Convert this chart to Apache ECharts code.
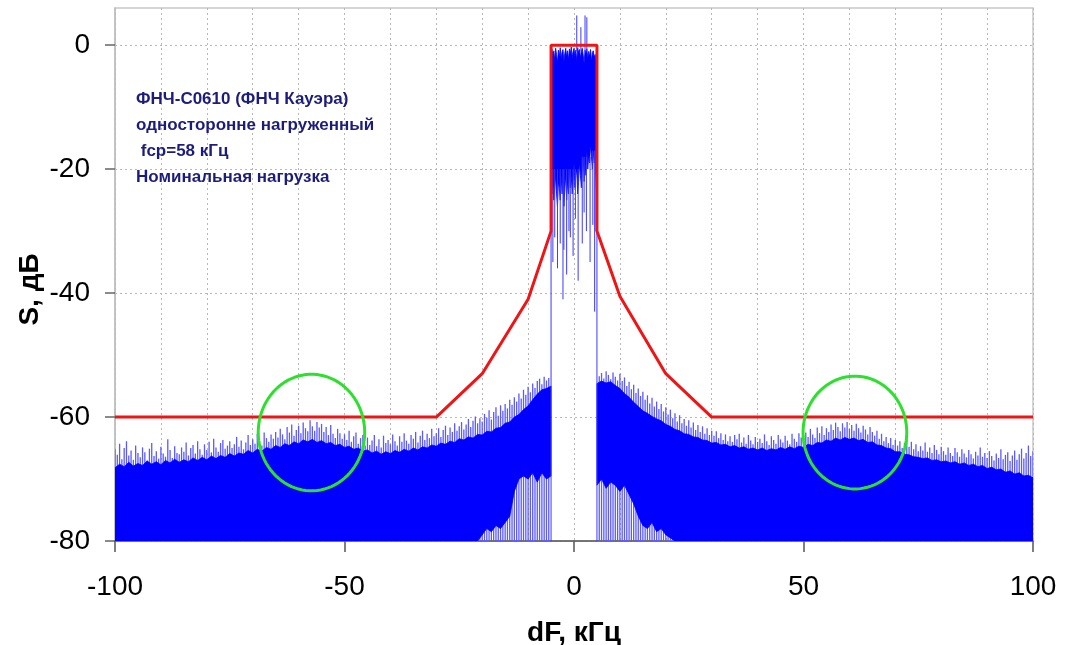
<!DOCTYPE html>
<html><head><meta charset="utf-8">
<script src="https://cdn.jsdelivr.net/npm/echarts@6/dist/echarts.min.js"></script>
<style>html,body{margin:0;padding:0;background:#fff}#c{width:1068px;height:645px}</style>
</head><body><div id="c"></div>
<script>
// ---- data ----
const xTicks = [-100, -50, 0, 50, 100];
const yTicks = [-80, -60, -40, -20, 0];
const annotationLines = ['ФНЧ-С0610 (ФНЧ Кауэра)', 'односторонне нагруженный', ' fcp=58 кГц', 'Номинальная нагрузка'];

// red mask (spectral limit)
const maskX = [-100, -30, -20, -10, -5, -5, 5, 5, 10, 20, 30, 100];
const maskY = [-60, -60, -53, -41, -30, 0, 0, -30, -40.5, -53, -60, -60];

// noise body outside the band, 1 kHz step
const leftStart = -100;   // -100 .. -5
const rightStart = 5;     // 5 .. 100
const leftTop = [
  -68.2,-67.6,-68.0,-67.3,-67.9,-67.5,-67.8,-67.1,-67.6,-67.2,
  -67.7,-67.0,-67.4,-66.8,-67.3,-66.9,-67.2,-66.6,-67.0,-66.5,
  -66.9,-66.3,-66.7,-66.2,-66.5,-65.9,-66.3,-65.8,-66.0,-65.4,
  -65.8,-65.2,-65.5,-64.9,-65.2,-64.6,-64.9,-64.3,-64.6,-64.0,
  -64.3,-63.7,-64.0,-63.6,-64.1,-63.8,-64.3,-64.1,-64.6,-64.4,
  -64.9,-64.7,-65.2,-65.0,-65.5,-65.3,-65.8,-65.5,-66.0,-65.6,
  -65.9,-65.4,-65.7,-65.2,-65.5,-65.0,-65.3,-64.8,-65.0,-64.5,
  -64.7,-64.2,-64.4,-63.9,-64.1,-63.5,-63.7,-63.2,-63.4,-62.8,
  -62.9,-62.3,-62.4,-61.8,-61.7,-61.0,-60.8,-60.0,-59.6,-58.8,
  -58.2,-57.2,-56.3,-55.6,-55.4,-55.0
];
const leftFloor = [
  -80,-80,-80,-80,-80,-80,-80,-80,-80,-80,
  -80,-80,-80,-80,-80,-80,-80,-80,-80,-80,
  -80,-80,-80,-80,-80,-80,-80,-80,-80,-80,
  -80,-80,-80,-80,-80,-80,-80,-80,-80,-80,
  -80,-80,-80,-80,-80,-80,-80,-80,-80,-80,
  -80,-80,-80,-80,-80,-80,-80,-80,-80,-80,
  -80,-80,-80,-80,-80,-80,-80,-80,-80,-80,
  -80,-80,-80,-80,-80,-80,-80,-80,-80,
  -80,-79,-78,-78.5,-77.5,-78,-77,-76,-72,-70,
  -69.5,-70,-69,-70.5,-69,-70,-69.5
];
const rightTop = [
  -54.6,-54.2,-54.5,-54.3,-54.9,-55.4,-56.2,-56.8,-57.6,-58.3,
  -59.0,-59.4,-59.9,-60.3,-60.6,-61.2,-61.5,-62.0,-62.2,-62.7,
  -62.8,-63.2,-63.3,-63.7,-63.8,-64.2,-64.1,-64.5,-64.4,-64.8,
  -64.6,-65.0,-64.8,-65.2,-65.0,-65.3,-65.0,-65.4,-65.1,-65.3,
  -64.9,-65.2,-64.8,-65.1,-64.7,-64.9,-64.4,-64.6,-64.1,-64.2,
  -63.7,-63.9,-63.4,-63.7,-63.3,-63.6,-63.4,-63.8,-63.6,-64.1,
  -64.0,-64.5,-64.6,-65.0,-65.1,-65.6,-65.6,-66.0,-66.1,-66.4,
  -66.5,-66.7,-66.6,-67.0,-66.9,-67.2,-67.1,-67.4,-67.2,-67.6,
  -67.4,-67.8,-67.6,-68.0,-67.8,-68.3,-68.1,-68.5,-68.4,-68.9,
  -68.7,-69.2,-69.0,-69.5,-69.4,-69.8
];
const rightFloor = [
  -71,-70,-71.5,-70.5,-71,-72,-71,-72.5,-74,-76,
  -77.5,-78,-77,-78.5,-78,-79,-79.5,
  -80,-80,-80,-80,-80,-80,-80,-80,-80,-80,
  -80,-80,-80,-80,-80,-80,-80,-80,-80,-80,
  -80,-80,-80,-80,-80,-80,-80,-80,-80,-80,
  -80,-80,-80,-80,-80,-80,-80,-80,-80,-80,
  -80,-80,-80,-80,-80,-80,-80,-80,-80,-80,
  -80,-80,-80,-80,-80,-80,-80,-80,-80,-80,
  -80,-80,-80,-80,-80,-80,-80,-80,-80,-80,
  -80,-80,-80,-80,-80,-80,-80,-80,-80
];

// noise spikes, 0.5 kHz step
const leftTipStart = -100;  // -100 .. -5.5
const rightTipStart = 5.5;  // 5.5 .. 100
const leftTips = [
  -65.2,-66.1,-64.3,-66.8,-65.0,-63.9,-66.2,-65.4,-66.9,-64.6,
  -65.8,-66.5,-64.9,-65.7,-67.0,-65.1,-64.2,-66.3,-65.5,-66.7,
  -64.8,-65.9,-66.4,-63.6,-65.3,-66.6,-64.7,-65.8,-66.0,-64.9,
  -65.6,-64.1,-66.2,-65.0,-64.5,-65.9,-63.9,-65.2,-66.1,-64.4,
  -65.3,-64.0,-65.7,-63.5,-64.9,-65.6,-64.2,-63.7,-65.1,-64.6,
  -63.9,-65.0,-64.4,-63.2,-64.8,-63.8,-65.2,-64.1,-62.9,-64.5,
  -63.6,-64.3,-62.7,-63.9,-64.6,-62.5,-63.4,-64.0,-62.8,-63.5,
  -62.4,-63.3,-61.9,-62.8,-63.6,-61.6,-62.5,-61.2,-63.0,-62.1,
  -61.4,-62.6,-60.9,-61.8,-62.3,-60.5,-61.5,-62.2,-60.8,-61.7,
  -61.1,-62.4,-61.6,-62.9,-61.3,-62.7,-63.4,-61.9,-62.6,-63.5,
  -62.8,-63.7,-62.2,-64.0,-63.1,-62.5,-64.3,-63.4,-62.9,-64.6,
  -63.3,-64.5,-63.8,-62.9,-64.7,-63.6,-64.9,-63.0,-64.2,-63.7,
  -64.4,-62.8,-63.9,-64.6,-63.1,-64.0,-62.6,-63.8,-64.3,-62.9,
  -63.5,-62.4,-64.1,-63.0,-62.2,-63.7,-62.7,-63.4,-61.9,-63.1,
  -62.6,-61.8,-63.2,-62.1,-61.4,-62.9,-61.7,-62.4,-61.0,-62.2,
  -61.5,-60.8,-62.0,-61.2,-60.3,-61.6,-60.6,-59.9,-61.0,-60.2,
  -60.7,-59.5,-60.1,-58.9,-60.4,-59.2,-58.4,-59.8,-58.1,-59.0,
  -57.9,-58.6,-57.2,-58.0,-56.8,-57.5,-56.2,-57.0,-55.6,-56.4,
  -55.1,-56.0,-54.6,-55.3,-54.2,-53.8,-54.7,-53.5,-54.1,-53.7
];
const rightTips = [
  -53.4,-52.9,-53.8,-52.6,-53.2,-53.9,-52.8,-53.5,-54.1,-53.0,
  -54.2,-53.6,-55.0,-54.3,-55.5,-54.8,-56.1,-55.4,-56.6,-55.9,
  -57.2,-56.5,-57.8,-56.9,-58.3,-57.5,-58.7,-57.9,-59.1,-58.4,
  -59.6,-58.8,-60.2,-59.4,-60.7,-59.7,-61.0,-60.3,-61.4,-60.5,
  -61.7,-60.9,-62.1,-61.3,-62.4,-61.5,-62.7,-61.8,-62.9,-62.2,
  -63.0,-62.3,-63.4,-62.6,-63.7,-62.8,-63.9,-63.1,-64.0,-62.9,
  -63.6,-62.7,-64.1,-63.3,-64.3,-62.9,-63.8,-64.4,-63.2,-64.0,
  -63.5,-64.2,-62.8,-63.9,-64.5,-63.1,-63.7,-64.3,-62.9,-63.6,
  -64.1,-63.0,-63.8,-64.4,-62.7,-63.5,-64.0,-62.6,-63.3,-63.9,
  -62.5,-63.2,-61.9,-62.8,-63.4,-61.7,-62.6,-61.5,-62.9,-61.8,
  -62.4,-61.2,-62.1,-60.9,-61.6,-62.3,-61.0,-61.7,-60.8,-61.9,
  -61.3,-62.2,-61.1,-61.8,-62.5,-61.4,-62.0,-62.8,-61.6,-62.4,
  -63.0,-62.2,-63.5,-62.7,-63.9,-63.2,-64.2,-63.4,-64.5,-63.7,
  -64.6,-63.9,-65.0,-64.2,-63.6,-64.8,-64.0,-65.2,-64.4,-65.5,
  -64.7,-65.4,-64.1,-65.6,-64.9,-65.8,-64.5,-65.3,-66.0,-64.8,
  -65.5,-66.1,-64.9,-65.8,-66.3,-65.0,-65.7,-66.4,-65.2,-65.9,
  -66.5,-65.3,-66.0,-66.7,-65.6,-66.2,-64.9,-66.4,-65.8,-66.6,
  -65.5,-66.3,-67.0,-65.9,-66.6,-65.2,-66.8,-66.1,-65.7,-67.1,
  -66.2,-65.4,-66.9,-66.0,-65.1,-66.7,-65.8,-64.6,-66.3,-65.5
];

// pass band, 0.2 kHz step, -5 .. 5
const centerStart = -5;
const centerTop = [
  -1.2,-0.6,-1.8,-0.9,-2.4,-0.5,-1.5,-2.8,-0.8,-1.9,
  -0.4,-2.2,-1.1,-0.7,-2.6,-1.3,-0.5,-1.9,-0.9,-2.3,
  -0.6,-1.4,-0.3,-2.0,-1.0,-0.5,-1.7,-0.8,-2.5,-0.4,
  -1.2,-0.7,-2.1,-0.9,-0.5,-1.6,-2.9,-0.8,-1.4,-0.6,
  -2.2,-1.0,-1.8,-0.7,-2.6,-1.2,-0.9,-2.0,-1.5,-2.4,
  -1.0
];
const centerFloor = [
  -23,-24,-22,-25,-23,-21,-24,-26,-22,-23,
  -25,-21,-24,-22,-26,-23,-21,-25,-22,-24,
  -20,-23,-21,-24,-22,-19,-23,-21,-20,-24,
  -22,-19,-21,-23,-20,-18,-22,-19,-21,-17,
  -20,-18,-19,-16,-18,-20,-17,-19,-18,-22,
  -26
];
// individual spectral lines in the band: x, from, to
const bandLines = [
  [-5, -80, -1.2], [5, -80, -1.0],
  [0.6, -1, 4.8], [1.5, -1, 2.9], [2.4, -1, 4.8], [2.8, -1, 4.5],
  [-4.6, -35, -20], [-4.2, -31, -20], [-3.6, -36, -20], [-3.0, -32, -20],
  [-2.4, -41, -20], [-2.2, -33, -20], [-1.6, -37, -20], [-1.1, -30, -20],
  [-0.8, -31, -20], [-0.2, -34, -20], [0.3, -28, -20], [0.9, -38, -20],
  [1.8, -32, -18], [2.2, -27, -18], [2.7, -30, -18], [3.5, -35, -18],
  [4.1, -29, -17], [4.5, -43, -17], [4.8, -30, -17]
];

// highlighted regions: centre x, centre y, radius x (kHz), radius y (dB)
const circles = [[-57.2, -62.5, 11.6, 9.4], [61.2, -62.5, 11.3, 9.1]];

// ---- build series data ----
const r1 = v => Math.round(v * 1000) / 1000;
const leftBody = leftTop.map((v, i) => [leftStart + i, v, leftFloor[i]]);
const rightBody = rightTop.map((v, i) => [rightStart + i, v, rightFloor[i]]);
const centerBody = centerTop.map((v, i) => [r1(centerStart + i * 0.2), v, centerFloor[i]]);
const tipsData = leftTips.map((v, i) => [leftTipStart + i * 0.5, -80, v])
  .concat(rightTips.map((v, i) => [rightTipStart + i * 0.5, -80, v]));
const maskData = maskX.map((x, i) => [x, maskY[i]]);

const BLUE = '#0000ff';
const FONT = '"Liberation Sans", Arial, sans-serif';

// filled band between top and floor, drawn as one polygon through the axes
function bodySeries(data, z) {
  return {
    type: 'custom', data, encode: { x: 0, y: [1, 2] }, silent: true, z, clip: true,
    renderItem: (params, api) => {
      if (params.dataIndex !== 0) return null;
      const pts = [];
      for (let i = 0; i < data.length; i++) pts.push(api.coord([data[i][0], data[i][1]]));
      for (let i = data.length - 1; i >= 0; i--) pts.push(api.coord([data[i][0], data[i][2]]));
      return { type: 'polygon', shape: { points: pts },
        style: { fill: BLUE, stroke: BLUE, lineWidth: 0.8 } };
    }
  };
}
// vertical spectral lines
function linesSeries(data, color, width, z) {
  return {
    type: 'custom', data, encode: { x: 0, y: [1, 2] }, silent: true, z, clip: true,
    renderItem: (params, api) => {
      const x = api.value(0);
      const p0 = api.coord([x, api.value(1)]), p1 = api.coord([x, api.value(2)]);
      return { type: 'line', shape: { x1: p0[0], y1: p0[1], x2: p1[0], y2: p1[1] },
        style: { stroke: color, lineWidth: width } };
    }
  };
}

const chart = echarts.init(document.getElementById('c'), null, { renderer: 'canvas' });
chart.setOption({
  animation: false,
  backgroundColor: '#fff',
  grid: { left: 115, right: 35, top: 8, bottom: 104, show: true, borderColor: '#c8c8c8', borderWidth: 1.5,
    containLabel: false, outerBoundsMode: 'none' },
  xAxis: {
    type: 'value', min: -100, max: 100, interval: 50,
    name: 'dF, кГц', nameLocation: 'middle', nameGap: 78, nameMoveOverlap: false,
    nameTextStyle: { fontFamily: FONT, fontSize: 28, fontWeight: 'bold', color: '#000' },
    axisLine: { show: true, onZero: false, lineStyle: { color: '#555', width: 1.5 } },
    axisTick: { show: true, length: 11, lineStyle: { color: '#555', width: 1.5 } },
    axisLabel: { fontFamily: FONT, fontSize: 28, color: '#000', margin: 32, customValues: xTicks },
    splitLine: { show: true, lineStyle: { color: '#b8b8b8', type: [2, 3], width: 1 } },
    minorTick: { show: false, splitNumber: 5 },
    minorSplitLine: { show: true, lineStyle: { color: '#b8b8b8', type: [2, 3], width: 1 } }
  },
  yAxis: {
    type: 'value', min: -80, max: 6, interval: 20,
    name: 'S, дБ', nameLocation: 'middle', nameGap: 71, nameRotate: 90, nameMoveOverlap: false,
    nameTextStyle: { fontFamily: FONT, fontSize: 28, fontWeight: 'bold', color: '#000', padding: [0, 30, 0, 0] },
    axisLine: { show: true, onZero: false, lineStyle: { color: '#bdbdbd', width: 1.5 } },
    axisTick: { show: true, length: 10, lineStyle: { color: '#666', width: 1.5 }, customValues: yTicks },
    axisLabel: { fontFamily: FONT, fontSize: 28, color: '#000', margin: 25, customValues: yTicks },
    splitLine: { show: true, lineStyle: { color: '#b8b8b8', type: [2, 3], width: 1 } }
  },
  graphic: [{
    type: 'text', left: 136, top: 86, z: 100,
    style: { text: annotationLines.join('\n'), font: 'bold 17px ' + FONT, fill: '#1c1c7c', lineHeight: 26 }
  }],
  series: [
    linesSeries(tipsData, '#5a5aff', 1.3, 1),
    bodySeries(leftBody, 2),
    bodySeries(rightBody, 2),
    bodySeries(centerBody, 2),
    linesSeries(bandLines, '#3a3aff', 1, 3),
    { type: 'line', data: maskData, symbol: 'none', silent: true, z: 5,
      lineStyle: { color: '#f01414', width: 3 } },
    { type: 'custom', data: circles, encode: { x: 0, y: 1 }, silent: true, z: 6,
      renderItem: (params, api) => {
        const c = api.coord([api.value(0), api.value(1)]);
        const s = api.size([api.value(2), api.value(3)]);
        const pts = [];
        for (let k = 0; k < 90; k++) {
          const a = k / 90 * Math.PI * 2;
          pts.push([c[0] + s[0] * Math.cos(a), c[1] + s[1] * Math.sin(a)]);
        }
        return { type: 'polygon', shape: { points: pts },
          style: { fill: 'none', stroke: '#2ee02e', lineWidth: 3 } };
      } }
  ]
});
</script></body></html>
